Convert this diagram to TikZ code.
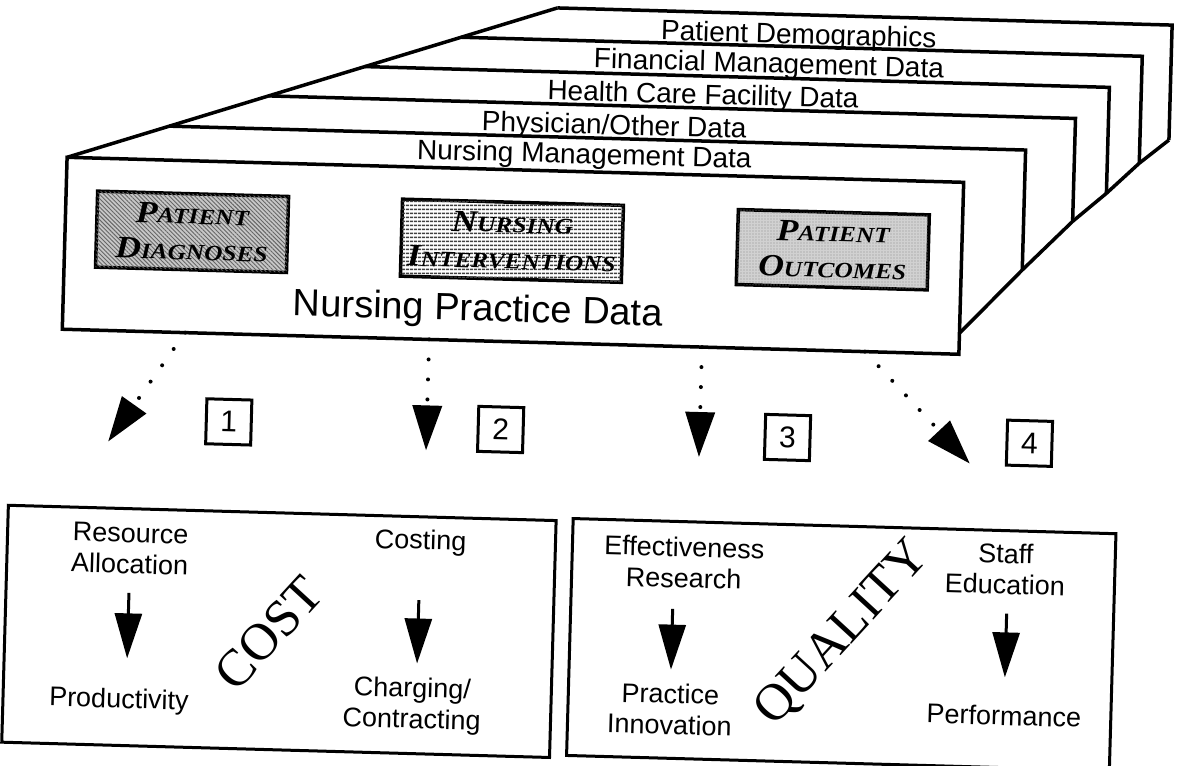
\documentclass[tikz,border=0pt]{standalone}
\usepackage{fontspec}
\setmainfont{Liberation Sans}
\newfontfamily\termfont{Liberation Serif}[FakeStretch=1.15]
\newfontfamily\themefont{Liberation Serif}
\usetikzlibrary{arrows.meta,patterns.meta}

\newcommand{\capfirst}[2]{{\fontsize{31}{31}\selectfont #1}#2}

\tikzset{
  frame/.style={line width=3.5pt},
  layerlabel/.style={anchor=base, inner sep=0pt, font=\fontsize{28}{28}\selectfont},
  termbox/.style={draw, line width=3.5pt, align=center, inner sep=0pt,
    font=\termfont\bfseries\itshape\fontsize{22}{36}\selectfont},
  numbox/.style={draw, line width=3pt, minimum size=45pt, inner sep=0pt,
    font=\fontsize{30}{30}\selectfont},
  panel/.style={draw, line width=3pt},
  panellabel/.style={anchor=north, inner sep=0pt, align=center,
    font=\fontsize{27}{31}\selectfont},
  theme/.style={inner sep=0pt, rotate=49, font=\themefont\fontsize{52}{52}\selectfont},
  flowarrow/.style={line width=3pt, -{Triangle[length=45pt,width=27pt]}},
  dotarrow/.style={line width=4pt, line cap=round, dash pattern=on 0pt off 20pt,
    -{Triangle[length=45pt,width=29pt]}}
}

\begin{document}
\begin{tikzpicture}[x=1pt, y=-1pt]
\useasboundingbox (0,0) rectangle (1182,765);
\begin{scope}[rotate around={-1.6:(591,382)}, transform shape]

\coordinate (front-tl) at (61,172);
\coordinate (front-br) at (958,344);
\coordinate (front-rd) at (958,323);
\coordinate (l1-tl) at (162,138);
\coordinate (l1-tr) at (1019,138);
\coordinate (l1-br) at (1019,258);
\coordinate (l2-tl) at (261,105);
\coordinate (l2-tr) at (1068,105);
\coordinate (l2-br) at (1068,208);
\coordinate (l3-tl) at (356,73);
\coordinate (l3-tr) at (1101,73);
\coordinate (l3-br) at (1101,179);
\coordinate (l4-tl) at (452,41);
\coordinate (l4-tr) at (1133,41);
\coordinate (l4-br) at (1133,148);
\coordinate (l5-tl) at (547,9);
\coordinate (l5-tr) at (1162,9);
\coordinate (l5-br) at (1162,124);

\draw[frame] (front-tl) -- (l5-tl);
\draw[frame] (l1-tl) -- (l1-tr) -- (l1-br);
\draw[frame] (l2-tl) -- (l2-tr) -- (l2-br);
\draw[frame] (l3-tl) -- (l3-tr) -- (l3-br);
\draw[frame] (l4-tl) -- (l4-tr) -- (l4-br);
\draw[frame] (l5-tl) -- (l5-tr) -- (l5-br);
\draw[frame] (front-rd) -- (l1-br) -- (l2-br) -- (l3-br) -- (l4-br) -- (l5-br);
\draw[frame, fill=white] (front-tl) rectangle (front-br);

\node (lab-pd) [layerlabel] at (789,38) {Patient Demographics};
\node (lab-fmd) [layerlabel] at (760,68) {Financial Management Data};
\node (lab-hcf) [layerlabel] at (695,101) {Health Care Facility Data};
\node (lab-pod) [layerlabel] at (607,134) {Physician/Other Data};
\node (lab-nmd) [layerlabel] at (578,164) {Nursing Management Data};

\node (diagnoses) [termbox, minimum width=191pt, minimum height=76pt, fill=black!22,
    postaction={pattern={Lines[angle=-45,distance=3pt,line width=0.9pt]}, pattern color=black!60}]
    at (188,243) {\capfirst{P}{ATIENT}\\\capfirst{D}{IAGNOSES}};
\node (interventions) [termbox, minimum width=221pt, minimum height=77pt, fill=white,
    postaction={pattern={Lines[angle=0,distance=4pt,line width=1.7pt]}, pattern color=black!75}]
    at (508,243) {\capfirst{N}{URSING}\\\capfirst{I}{NTERVENTIONS}};
\node (outcomes) [termbox, minimum width=191pt, minimum height=75pt, fill=black!18,
    postaction={pattern={Dots[distance=3pt,radius=0.6pt]}, pattern color=black!45}]
    at (829,243) {\capfirst{P}{ATIENT}\\\capfirst{O}{UTCOMES}};
\node (practice) [anchor=base, inner sep=0pt, font=\fontsize{38}{38}\selectfont]
    at (476,324) {Nursing Practice Data};

\coordinate (src1) at (184,344);
\coordinate (dst1) at (110,455);
\coordinate (src2) at (428,344);
\coordinate (dst2) at (428,455);
\coordinate (src3) at (701,344);
\coordinate (dst3) at (701,454);
\coordinate (src4) at (864,344);
\coordinate (dst4) at (972,453);
\draw[dotarrow] (src1) -- (dst1);
\draw[dotarrow] (src2) -- (dst2);
\draw[dotarrow] (src3) -- (dst3);
\draw[dotarrow] (src4) -- (dst4);

\node (num1) [numbox] at (230,432) {1};
\node (num2) [numbox] at (502,432) {2};
\node (num3) [numbox] at (789,432) {3};
\node (num4) [numbox] at (1031,431) {4};

\node (costbox) [panel, minimum width=548pt, minimum height=237pt] at (286,640) {};
\node (qualitybox) [panel, minimum width=543pt, minimum height=237pt] at (848.5,637.5) {};

\node (resource) [panellabel] at (135,536.5) {Resource\\Allocation};
\node (costing) [panellabel, anchor=base] at (425,554) {Costing};
\node (productivity) [panellabel, anchor=base] at (128,721) {Productivity};
\node (charging) [panellabel] at (421,682.3) {Charging/\\Contracting};
\node (cost) [theme] at (276,642) {COST};

\node (effect) [panellabel] at (689,534.3) {Effectiveness\\Research};
\node (innovation) [panellabel] at (679,681.3) {Practice\\Innovation};
\node (staff) [panellabel] at (1010.5,531.7) {Staff\\Education};
\node (performance) [panellabel, anchor=base] at (1013,713.5) {Performance};
\node (quality) [theme] at (850,627) {QUALITY};

\draw[flowarrow, shorten <=19pt, shorten >=30pt] (resource.south) -- (resource.south |- productivity.north);
\draw[flowarrow, shorten <=45pt, shorten >=14pt] (costing.south) -- (costing.south |- charging.north);
\draw[flowarrow, shorten <=21pt, shorten >=14pt] (effect.south -| innovation.north) -- (innovation.north);
\draw[flowarrow, shorten <=19pt, shorten >=28pt] (staff.south -| performance.north) -- (performance.north);

\end{scope}
\end{tikzpicture}
\end{document}
